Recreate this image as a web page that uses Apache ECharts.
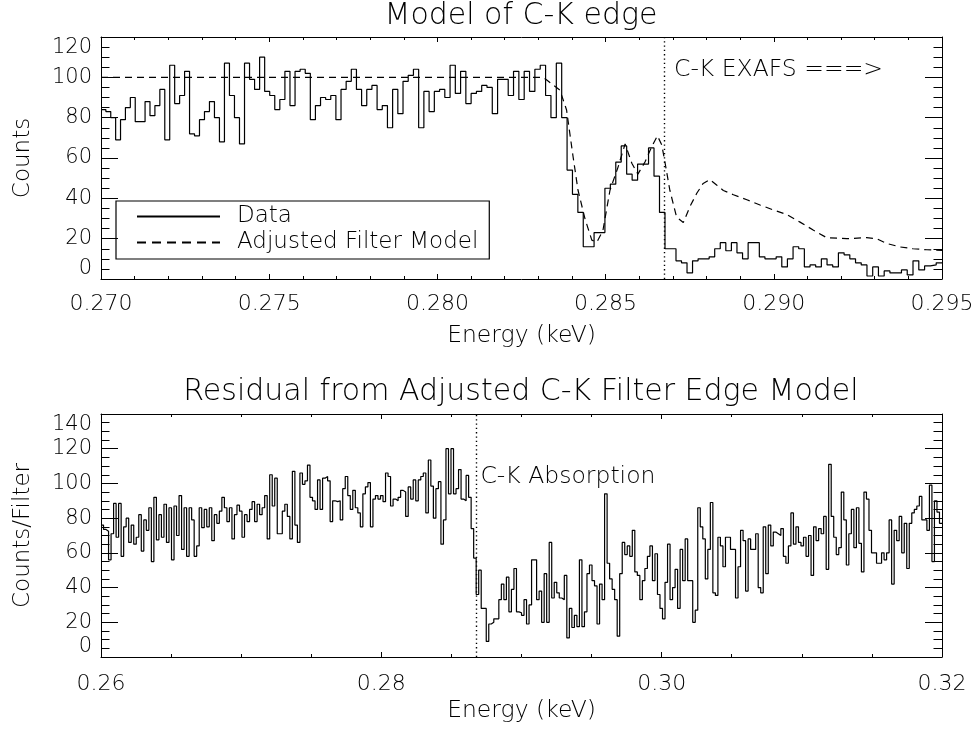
<!DOCTYPE html>
<html>
<head>
<meta charset="utf-8">
<script src="https://cdn.jsdelivr.net/npm/echarts@6/dist/echarts.min.js"></script>
<style>html,body{margin:0;padding:0;background:#fff}#c{width:979px;height:736px}</style>
</head>
<body>
<div id="c"></div>
<script>
// ---------- data ----------
const topTitle = 'Model of C-K edge';
const botTitle = 'Residual from Adjusted C-K Filter Edge Model';
const topRange = [0.270, 0.295];
const botRange = [0.26, 0.32];
const topYTicks = [0, 120, 20];
const botYTicks = [0, 140, 20];
const edgeEnergy = 0.28675;
const exafsLabel = 'C-K EXAFS ===>';
const exafsY = 103.6;
const absLabel = 'C-K Absorption';
const absY = 104;

// measured counts per spectral bin (bins uniform in wavelength, 0.270-0.295 keV)
const topCounts = [
  84,83,80,69,79,85,90,78,78,88,
  81,86,94,69,106,87,91,103,72,71,
  79,83,88,80,68,107,91,80,67,107,
  99,94,110,93,91,84,89,103,86,103,
  104,102,79,86,90,89,91,
  79,94,98,104,94,86,94,96,84,86,
  75,94,82,98,101,104,75,93,83,93,
  94,90,106,92,103,87,92,93,96,95,
  82,99,99,91,103,89,103,93,104,106,
  91,80,107,80,54,42,
  33,16,16,23,23,45,47,58,66,52,
  49,57,57,65,51,33,15,15,9,8,
  3,9,10,10,11,15,18,14,18,13,
  10,18,18,
  11,10,10,11,6,10,16,15,
  6,7,6,10,7,6,13,12,10,8,
  7,1.5,6,1.5,4,3,3,4.5,2,9,
  4.5,6.5,7,8
];

// adjusted filter model (energy, counts)
const modelEnergy = [0.2700,0.28314,0.28325,0.28364,0.28384,0.28403,0.28418,0.28439,0.28459,0.28474,
  0.28492,0.28513,0.28537,0.28558,0.28578,0.28596,0.28617,0.28637,0.28654,0.28667,
  0.28677,0.28691,0.28711,0.28731,0.28751,0.28771,0.28790,0.28810,0.28830,0.28850,
  0.28880,0.28920,0.28959,0.28999,0.29038,0.29078,0.29117,0.29157,0.29217,0.29276,
  0.29306,0.29336,0.29375,0.29414,0.29455,0.2950];
const modelCounts = [100,100,98.7,93.7,83.8,61,44,29.7,19.3,18.3,
  24,44,55.5,67,57.4,52,58,65.6,71,66.5,
  57.4,44,30.7,28,36,42.5,47.4,49.3,46.6,43.9,
  41.8,39.3,36.7,34.2,32,28.2,24.3,20.5,20,20.5,
  20,17.6,15.9,15,14.5,14.2];

// residual counts/filter, uniform energy bins 0.26-0.32 keV
const residual = [
  76,73.5,72.5,56,71,88.5,69,88.5,58,75,80,66,76,65,69,82,61,79,73,86,
  55,92,67.5,82,69,88,66,86,56,87,70,93,62,86,58,86,79,58,64,86,
  74.5,85,75,86,67,82,77,84,92,86,78,86,68,82,87.5,84,69,82,78,85,
  89.5,78,88,82,86,93,68,105,87,103,71,71,84,88,81,
  68,107,76,66,106,99.5,101.5,110.6,92,90,85,102,85,103,104,101.5,78,90,89.5,90,
  79,97,104,93,85,96,86,83,75,94,98,100.5,75,91,93,91,93,89.5,106,104,
  87,91,90,92,96,95,81,98,91,102,90,102,104,106,83,113.5,98.5,80,97,101,
  65,79,120,94,120,94,97,108,91,90,104.6,92,
  74,57,36,50,28,28,9,19,20,22,22,33,42,33,46,26,39,51,26,25.5,
  24,33,19,30,56,56,33,38,20,48,20,66,34,43,37,34,33,47,11,28,
  17,24,17.5,56,17.5,26,48,53,44,41,19,42,33,94,54,45,39,33,12,48,
  66,59,64,58,73,49,47,33,44,51,58,64,44,59.5,
  36,28,22,43,65,33,40,50.5,28,62,44,68,44,44,20,27,86,75,68,45,
  62,89,37,35.5,69,64,52,69,69,62,62,34,52,73,67,38,68,62,62,71,
  40,37,75,48,76,64,72,71,70,74,58,54,64,83,65,75,66,64,69,58,
  70,47,75,67,74,71,81,50.5,111,81,69,59,
  63,95,79,53,71,85,63,86,65.5,49,95,91,73,60,60,54,54,60,56,60,
  79,42,73,67,81,60,77,51,77,83,85,87,92.5,79,79,73,99,55,90,83.5,77
];

// ---------- build ----------
const HC = 12.398; // keV * Angstrom
function wavelengthEdges(range, n) {
  const l0 = HC / range[0], l1 = HC / range[1], d = (l0 - l1) / n, e = [];
  for (let i = 0; i <= n; i++) e.push(i === n ? range[1] : HC / (l0 - i * d));
  return e;
}
function energyEdges(range, n) {
  const e = [];
  for (let i = 0; i <= n; i++) e.push(range[0] + (range[1] - range[0]) * i / n);
  return e;
}
function stepData(edges, vals) {
  const d = vals.map((v, i) => [edges[i], v]);
  d.push([edges[vals.length], vals[vals.length - 1]]);
  return d;
}
const topData = stepData(wavelengthEdges(topRange, topCounts.length), topCounts);
const botData = stepData(energyEdges(botRange, residual.length), residual);
const modelData = modelEnergy.map((e, i) => [e, modelCounts[i]]);

const FONT = 'DejaVu Sans';
const INK = '#000';
const txt = (size) => ({ fontFamily: FONT, fontSize: size, color: INK, fontWeight: 200 });

function xAxes(grid, range, interval, minor, digits, nameGap, margin) {
  const base = {
    gridIndex: grid, type: 'value', min: range[0], max: range[1], interval: interval,
    axisLine: { show: true, onZero: false, lineStyle: { color: '#000', width: 1 } },
    axisTick: { show: true, inside: true, length: 5, lineStyle: { color: '#000', width: 1 } },
    minorTick: { show: true, splitNumber: minor, length: 3, lineStyle: { color: '#000', width: 1 } },
    splitLine: { show: false }, minorSplitLine: { show: false }
  };
  return [
    Object.assign({}, base, {
      position: 'bottom',
      axisLabel: Object.assign(txt(22), { margin: margin, formatter: v => v.toFixed(digits) }),
      name: 'Energy (keV)', nameLocation: 'middle', nameGap: nameGap, nameTextStyle: txt(23.5)
    }),
    Object.assign({}, base, { position: 'top', axisLabel: { show: false } })
  ];
}
function yAxes(grid, ticks, name) {
  const base = {
    gridIndex: grid, type: 'value', min: ticks[0], max: ticks[1], interval: ticks[2],
    axisLine: { show: true, onZero: false, lineStyle: { color: '#000', width: 1 } },
    axisTick: { show: true, inside: true, length: 17, lineStyle: { color: '#000', width: 1 } },
    minorTick: { show: true, splitNumber: 4, length: 8.5, lineStyle: { color: '#000', width: 1 } },
    splitLine: { show: false }, minorSplitLine: { show: false }
  };
  return [
    Object.assign({}, base, {
      position: 'left',
      axisLabel: Object.assign(txt(21), { margin: 9, verticalAlignMinLabel: 'bottom', verticalAlignMaxLabel: 'top' }),
      name: name, nameLocation: 'middle', nameGap: 66, nameTextStyle: txt(23)
    }),
    Object.assign({}, base, { position: 'right', axisLabel: { show: false } })
  ];
}

const dotted = { type: [1.3, 3], color: '#000', width: 1.4 };
function edgeLine(ticks) {
  return { symbol: 'none', silent: true, label: { show: false }, lineStyle: dotted,
    data: [[{ coord: [edgeEnergy, ticks[0]] }, { coord: [edgeEnergy, ticks[1]] }]] };
}
const chart = echarts.init(document.getElementById('c'), null, { renderer: 'canvas' });
chart.setOption({
  backgroundColor: '#fff',
  animation: false,
  title: [
    { text: topTitle, left: 521, top: 1, textAlign: 'center', padding: 0, textStyle: txt(30) },
    { text: botTitle, left: 521, top: 377, textAlign: 'center', padding: 0, textStyle: txt(30) }
  ],
  grid: [
    { left: 101, top: 37, width: 841, height: 242 },
    { left: 101, top: 414, width: 841, height: 243 }
  ],
  legend: {
    left: 116, top: 201, orient: 'vertical', selectedMode: false,
    padding: [4, 11, 5, 20], itemWidth: 83, itemHeight: 14, itemGap: 3,
    borderColor: '#000', borderWidth: 1.2, borderRadius: 0,
    itemStyle: { color: 'rgba(0,0,0,0)', borderWidth: 0, opacity: 0 },
    textStyle: Object.assign(txt(23), { padding: [0, 0, 0, 12] }),
    data: [
      { name: 'Data' },
      { name: 'Adjusted Filter Model', lineStyle: { type: [9, 6] } }
    ]
  },
  xAxis: xAxes(0, topRange, 0.005, 5, 3, 45, 14).concat(xAxes(1, botRange, 0.02, 4, 2, 42, 16)),
  yAxis: yAxes(0, topYTicks, 'Counts').concat(yAxes(1, botYTicks, 'Counts/Filter')),
  series: [
    {
      name: 'Data', type: 'line', xAxisIndex: 0, yAxisIndex: 0, step: 'end',
      symbol: 'none', showSymbol: false, data: topData, silent: true,
      lineStyle: { color: '#000', width: 1.2 }, itemStyle: { color: '#000' },
      markLine: edgeLine(topYTicks),
      markPoint: { symbol: 'circle', symbolSize: 1, itemStyle: { color: 'rgba(0,0,0,0)' },
        label: Object.assign(txt(23.5), { show: true, position: 'right', distance: 9, formatter: exafsLabel }),
        data: [{ coord: [edgeEnergy, exafsY] }] }
    },
    {
      name: 'Adjusted Filter Model', type: 'line', xAxisIndex: 0, yAxisIndex: 0,
      symbol: 'none', showSymbol: false, data: modelData, silent: true,
      lineStyle: { color: '#000', width: 1.2, type: [7, 5] }, itemStyle: { color: '#000' }
    },
    {
      name: 'Residual', type: 'line', xAxisIndex: 2, yAxisIndex: 2, step: 'end',
      symbol: 'none', showSymbol: false, data: botData, silent: true,
      lineStyle: { color: '#000', width: 1.2 }, itemStyle: { color: '#000' },
      markLine: edgeLine(botYTicks),
      markPoint: { symbol: 'circle', symbolSize: 1, itemStyle: { color: 'rgba(0,0,0,0)' },
        label: Object.assign(txt(23.5), { show: true, position: 'right', distance: 4, formatter: absLabel }),
        data: [{ coord: [edgeEnergy, absY] }] }
    }
  ]
});
</script>
</body>
</html>
